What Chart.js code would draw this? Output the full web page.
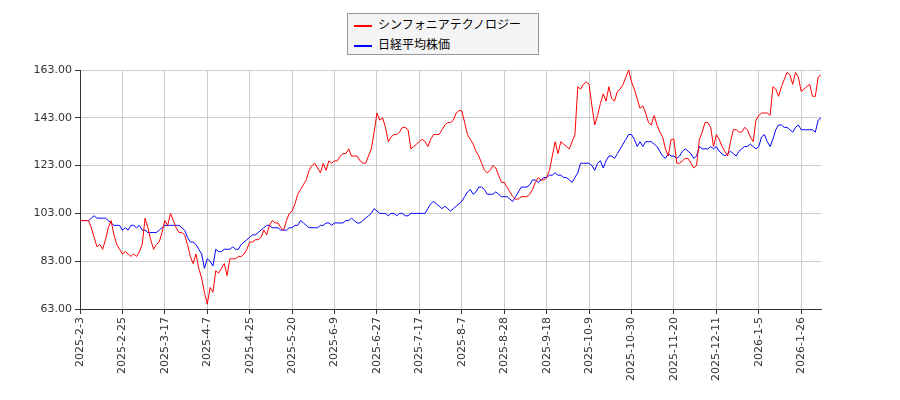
<!DOCTYPE html>
<html><head><meta charset="utf-8">
<script src="https://cdn.jsdelivr.net/npm/chart.js@4/dist/chart.umd.min.js"></script>
<style>
body{margin:0;background:#fff;font-family:"Noto Sans CJK JP","DejaVu Sans",sans-serif;}
#wrap{position:relative;width:900px;height:400px;}
#legend{position:absolute;left:347px;top:13px;width:192px;height:42px;border:1px solid #999;background:#f4f4f4;box-sizing:border-box;font-size:12px;color:#000;}
.it{position:absolute;left:6px;height:20px;line-height:20px;}
.it span{display:inline-block;width:18px;height:2px;vertical-align:middle;margin-right:6px;}
</style></head><body>
<div id="wrap"><canvas id="c" width="900" height="400"></canvas>
<div id="legend"><div class="it" style="top:0"><span style="background:#f00"></span>シンフォニアテクノロジー</div><div class="it" style="top:20px"><span style="background:#00f"></span>日経平均株価</div></div></div>
<script>
const tickLabels=["2025-2-3","2025-2-25","2025-3-17","2025-4-7","2025-4-25","2025-5-20","2025-6-9","2025-6-27","2025-7-17","2025-8-7","2025-8-28","2025-9-18","2025-10-9","2025-10-30","2025-11-20","2025-12-11","2026-1-5","2026-1-26"];
const companyName="シンフォニアテクノロジー";
const indexName="日経平均株価";
const companyValues=[
100,100,100,100,97,93,89,90,88,92,97,100,94,90,88,
86,87,86,85,86,85,87,90,101,97,92,88,90,91,95,
100,98,103,100,97,95,95,94,90,85,82,86,80,76,70,
65,72,70,79,78,80,82,77,84,84,84,85,85,86,88,
91,91,92,92,93,96,94,98,100,99,99,97,96,100,103,
104,107,111,113,115,117,121,123,124,122,120,124,121,125,124,
125,125,127,128,128,130,127,127,127,125,124,124,127,130,137,
145,142,143,139,133,135,136,136,137,139,139,138,130,131,132,
133,134,133,131,134,136,136,136,138,140,141,141,142,145,146,
146,141,136,134,132,129,127,124,121,120,121,123,122,119,116,
116,114,112,110,109,109,110,110,110,111,113,116,118,117,117,
118,121,127,133,128,133,132,131,130,133,136,156,155,157,158,
157,148,140,144,149,153,150,156,151,150,154,155,157,160,163,
158,155,151,147,148,145,141,140,144,140,137,135,130,127,134,
134,124,124,125,126,126,124,122,123,134,137,141,141,139,131,
136,134,131,129,127,133,138,138,137,137,139,138,135,133,142,
144,145,145,145,144,156,155,152,156,159,162,161,157,162,160,
154,155,156,157,152,152,160,161];
const indexValues=[
100,100,100,100,101,102,101,101,101,101,100,99,98,98,98,
96,97,96,98,98,97,98,96,96,95,95,95,95,96,97,
98,98,98,98,98,98,97,96,93,91,91,90,88,86,80,
84,83,81,88,87,87,88,88,88,89,88,88,90,91,92,
93,94,94,95,96,97,98,98,97,97,97,96,96,96,97,
97,98,98,100,99,98,97,97,97,97,98,98,99,99,98,
99,99,99,99,100,100,101,100,99,99,100,101,102,103,105,
104,103,103,103,102,103,103,102,103,103,102,102,103,103,103,
103,103,103,105,107,108,107,106,105,106,105,104,105,106,107,
108,110,112,113,111,112,114,114,113,111,111,111,112,111,110,
110,110,109,108,110,112,114,114,114,115,117,117,116,117,118,
118,119,119,120,119,119,118,118,117,116,118,120,124,124,124,
124,123,121,124,125,122,125,127,127,126,128,130,132,134,136,
136,134,131,133,131,133,133,133,132,131,129,127,126,128,127,
127,126,127,129,130,129,128,126,127,131,130,130,130,131,130,
131,129,128,127,128,129,128,127,129,130,131,131,132,131,130,
131,135,136,133,131,134,138,140,140,139,139,138,137,139,140,
138,138,138,138,138,137,142,143];
const yTicks=[63,83,103,123,143,163];
const tickStep=15;
const pts=a=>a.map((v,i)=>({x:i,y:v}));
new Chart(document.getElementById('c'),{
type:'line',
data:{datasets:[
{label:companyName,data:pts(companyValues),borderColor:'#f00',borderWidth:1,pointRadius:0,tension:0},
{label:indexName,data:pts(indexValues),borderColor:'#00f',borderWidth:1,pointRadius:0,tension:0}]},
options:{responsive:false,animation:false,
layout:{padding:{left:0,right:79,top:70,bottom:0}},
plugins:{legend:{display:false},tooltip:{enabled:false}},
scales:{
x:{type:'linear',min:0,max:companyValues.length-1,
afterBuildTicks:s=>{s.ticks=tickLabels.map((t,i)=>({value:i*tickStep}));},
afterFit:s=>{s.height=91;},
grid:{color:'#ccc',tickLength:5,tickColor:'#333'},
border:{color:'#333'},
ticks:{autoSkip:false,maxRotation:90,minRotation:90,color:'#333',font:{size:11,family:'DejaVu Sans'},
callback:(v)=>tickLabels[Math.round(v/tickStep)]}},
y:{min:63,max:163,
afterBuildTicks:s=>{s.ticks=yTicks.map(v=>({value:v}));},
afterFit:s=>{s.width=80;},
grid:{color:'#ccc',tickLength:5,tickColor:'#333'},
border:{color:'#333'},
ticks:{color:'#333',font:{size:11,family:'DejaVu Sans'},callback:v=>v.toFixed(2)}}
}}});
</script></body></html>
